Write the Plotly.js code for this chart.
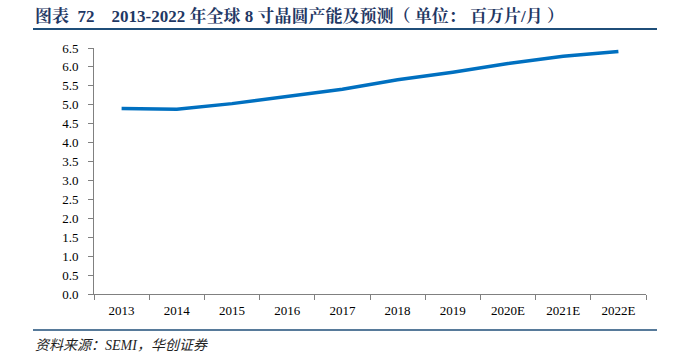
<!DOCTYPE html>
<html>
<head>
<meta charset="utf-8">
<script src="https://cdn.plot.ly/plotly-3.0.1.min.js"></script>
<style>html,body{margin:0;padding:0;background:#fff;}#chart{width:690px;height:353px;}</style>
</head>
<body>
<div id="chart"></div>
<script>
const categories = ["2013","2014","2015","2016","2017","2018","2019","2020E","2021E","2022E"];
const capacity = [4.90, 4.88, 5.03, 5.22, 5.41, 5.66, 5.86, 6.09, 6.28, 6.41];
const yTicks = [0,0.5,1,1.5,2,2.5,3,3.5,4,4.5,5,5.5,6,6.5];
const titleText = "图表&nbsp;&nbsp;72&nbsp;&nbsp;&nbsp;&nbsp;2013-2022 年全球 8 寸晶圆产能及预测（&nbsp;单位：&nbsp;百万片/月&nbsp;）";
const sourceText = "资料来源：SEMI，华创证券";

const W = 690, H = 353;
const mL = 94, mR = 44, mT = 48, mB = 59;
const pw = W - mL - mR, ph = H - mT - mB;
const px = x => (x - mL) / pw;
const py = y => (H - mB - y) / ph;

const trace = {
  x: categories, y: capacity, type: "scatter", mode: "lines",
  line: {color: "#0070C0", width: 3.5, shape: "linear"},
  hoverinfo: "skip"
};

const layout = {
  width: W, height: H,
  margin: {l: mL, r: mR, t: mT, b: mB, pad: 0},
  paper_bgcolor: "#fff", plot_bgcolor: "#fff",
  showlegend: false,
  font: {family: "Liberation Serif, Times New Roman, serif", size: 13, color: "#000"},
  xaxis: {
    type: "category", range: [-0.5, 9.5], tickson: "boundaries",
    showline: true, linecolor: "#808080", linewidth: 1,
    ticks: "outside", ticklen: 5, tickcolor: "#808080", showgrid: false, zeroline: false,
    ticklabelstandoff: 4,
    tickfont: {family: "Liberation Serif, serif", size: 13, color: "#000"}, fixedrange: true
  },
  yaxis: {
    range: [0, 6.5], tickvals: yTicks, ticktext: yTicks.map(v => v.toFixed(1)),
    showline: true, linecolor: "#808080", linewidth: 1,
    ticks: "outside", ticklen: 5, tickcolor: "#808080", showgrid: false, zeroline: false,
    ticklabelstandoff: 7,
    tickfont: {family: "Liberation Serif, serif", size: 13, color: "#000"}, fixedrange: true
  },
  shapes: [
    {type: "line", xref: "paper", yref: "paper", x0: px(33), x1: px(657), y0: py(29), y1: py(29),
     line: {color: "#1F4E79", width: 2}},
    {type: "line", xref: "paper", yref: "paper", x0: px(33), x1: px(657), y0: py(330), y1: py(330),
     line: {color: "#1F4E79", width: 1.5}}
  ],
  annotations: [
    {text: "<b>" + titleText + "</b>", xref: "paper", yref: "paper", x: px(33), y: py(16),
     xanchor: "left", yanchor: "middle", showarrow: false,
     font: {family: "Liberation Serif, Noto Serif CJK SC, Noto Sans CJK SC, serif", size: 17, color: "#1F3864"}},
    {text: "<i>" + sourceText + "</i>", xref: "paper", yref: "paper", x: px(33), y: py(345),
     xanchor: "left", yanchor: "middle", showarrow: false,
     font: {family: "Liberation Serif, Noto Sans CJK SC, serif", size: 14, color: "#1F1F1F"}}
  ]
};

Plotly.newPlot("chart", [trace], layout, {staticPlot: true, displayModeBar: false});
</script>
</body>
</html>
